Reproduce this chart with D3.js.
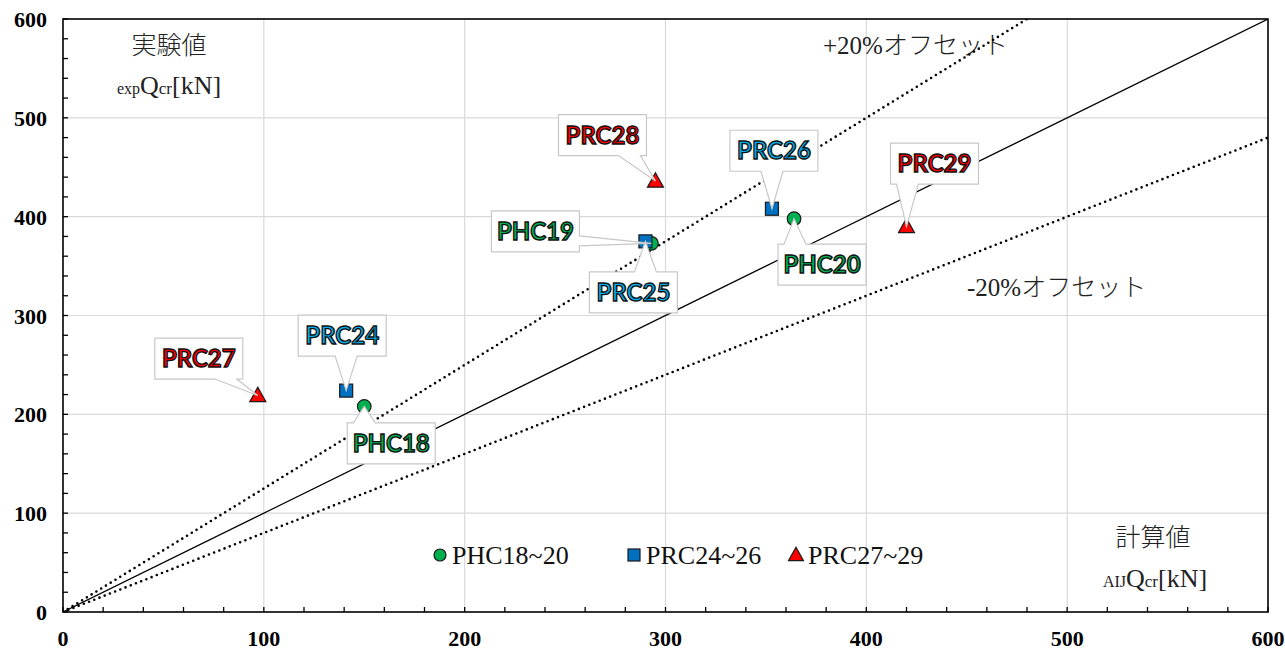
<!DOCTYPE html>
<html><head><meta charset="utf-8">
<script src="https://cdn.jsdelivr.net/npm/d3@7"></script>
<style>html,body{margin:0;padding:0;background:#fff;}svg{display:block;}</style>
</head><body>
<svg id="chart" width="1285" height="651"></svg>
<script>
// ---- data ----
const tickValues = [0, 100, 200, 300, 400, 500, 600];
const phcNames = ["PHC18", "PHC19", "PHC20"];
const phcX = [150, 293, 364];
const phcY = [208, 373, 398];
const prcANames = ["PRC24", "PRC25", "PRC26"];
const prcAX = [141, 290, 353];
const prcAY = [224, 375, 408];
const prcBNames = ["PRC27", "PRC28", "PRC29"];
const prcBX = [97, 295, 420];
const prcBY = [219, 436, 390];
const legendLabels = ["PHC18~20", "PRC24~26", "PRC27~29"];
const refSlopes = [1.0, 1.25, 0.8];

// ---- layout (callout box centre offsets from the point, px) ----
const calloutOffset = {
  PHC18: [27, 37], PHC19: [-116, -12], PHC20: [28, 46],
  PRC24: [-4, -55], PRC25: [-12, 51], PRC26: [2, -58],
  PRC27: [-59, -37], PRC28: [-53, -46], PRC29: [28, -63]
};

const svg = d3.select("#chart");
const L = 63, R = 1268, T = 19, B = 612;
const x = d3.scaleLinear().domain([0, 600]).range([L, R]);
const y = d3.scaleLinear().domain([0, 600]).range([B, T]);

const colors = { phc: "#00b050", prcA: "#0070c0", prcB: "#ff0000" };
const textColors = { phc: "#00b050", prcA: "#00b0f0", prcB: "#ff0000" };

// grid
const grid = svg.append("g");
tickValues.slice(1, -1).forEach(v => {
  grid.append("line").attr("x1", x(v)).attr("x2", x(v)).attr("y1", T).attr("y2", B)
    .attr("stroke", "#d9d9d9").attr("stroke-width", 1.2);
  grid.append("line").attr("x1", L).attr("x2", R).attr("y1", y(v)).attr("y2", y(v))
    .attr("stroke", "#d9d9d9").attr("stroke-width", 1.2);
});

// annotation texts
const serif = "'Liberation Serif','Times New Roman',serif";
const cjk = "'Liberation Serif','Noto Sans CJK JP',serif";
function annot(xp, yp, txt, size, anchor) {
  svg.append("text").attr("x", xp).attr("y", yp).attr("text-anchor", anchor || "middle")
    .attr("font-family", cjk).attr("font-size", size).attr("fill", "#222")
    .style("font-weight", 300).text(txt);
}
function offsetText(xp, yp, sign) {
  const t = svg.append("text").attr("x", xp).attr("y", yp).attr("fill", "#222")
    .attr("font-family", cjk).style("font-weight", 300);
  t.append("tspan").attr("font-size", 25).text(sign + "20%");
  t.append("tspan").attr("font-size", 25).text("オフセット");
}
annot(169, 54, "実験値", 25);
annot(1153, 546, "計算値", 25);
offsetText(823, 54, "+");
offsetText(967, 296, "-");
function unitLabel(cx, yp, sub) {
  const t = svg.append("text").attr("x", cx).attr("y", yp).attr("text-anchor", "middle")
    .attr("font-family", serif).attr("fill", "#222");
  t.append("tspan").attr("font-size", 16).text(sub);
  t.append("tspan").attr("font-size", 26).text("Q");
  t.append("tspan").attr("font-size", 17).text("cr");
  t.append("tspan").attr("font-size", 26).text("[kN]");
}
unitLabel(169, 94, "exp");
unitLabel(1155, 587, "AIJ");

// reference lines
svg.append("clipPath").attr("id", "plotclip").append("rect")
  .attr("x", L).attr("y", T).attr("width", R - L).attr("height", B - T);
const refG = svg.append("g").attr("clip-path", "url(#plotclip)");
refSlopes.forEach((s, i) => {
  const xEnd = Math.min(600, 600 / s);
  const ln = refG.append("line")
    .attr("x1", x(0)).attr("y1", y(0)).attr("x2", x(xEnd)).attr("y2", y(s * xEnd))
    .attr("stroke", "#000");
  if (i === 0) ln.attr("stroke-width", 1.2);
  else ln.attr("stroke-width", 2.6).attr("stroke-dasharray", "0 5.6").attr("stroke-linecap", "round");
});

// axes frame
svg.append("rect").attr("x", L).attr("y", T).attr("width", R - L).attr("height", B - T)
  .attr("fill", "none").attr("stroke", "#000").attr("stroke-width", 1.6);

// minor ticks (inward)
const axisG = svg.append("g");
d3.range(0, 601, 20).forEach(v => {
  axisG.append("line").attr("x1", x(v)).attr("x2", x(v)).attr("y1", B).attr("y2", B - 5)
    .attr("stroke", "#000").attr("stroke-width", 1.3);
  axisG.append("line").attr("x1", L).attr("x2", L + 5).attr("y1", y(v)).attr("y2", y(v))
    .attr("stroke", "#000").attr("stroke-width", 1.3);
});

// tick labels
tickValues.forEach(v => {
  svg.append("text").attr("x", x(v)).attr("y", 646).attr("text-anchor", "middle")
    .attr("font-family", serif).attr("font-weight", "bold").attr("font-size", 22).text(v);
  svg.append("text").attr("x", 47).attr("y", y(v) + 8).attr("text-anchor", "end")
    .attr("font-family", serif).attr("font-weight", "bold").attr("font-size", 22).text(v);
});

// markers
function marker(g, type, cx, cy, fill, size) {
  if (type === "circle") {
    g.append("circle").attr("cx", cx).attr("cy", cy).attr("r", size)
      .attr("fill", fill).attr("stroke", "#1a1a1a").attr("stroke-width", 1.2);
  } else if (type === "square") {
    g.append("rect").attr("x", cx - size).attr("y", cy - size).attr("width", 2 * size).attr("height", 2 * size)
      .attr("fill", fill).attr("stroke", "#1a1a1a").attr("stroke-width", 1.2);
  } else {
    const h = size * 1.8;
    g.append("path").attr("d", `M${cx},${cy - h * 0.58}L${cx + size},${cy + h * 0.42}L${cx - size},${cy + h * 0.42}Z`)
      .attr("fill", fill).attr("stroke", "#1a1a1a").attr("stroke-width", 1.2);
  }
}
const ptG = svg.append("g");
const series = [
  { key: "phc", type: "circle", names: phcNames, xs: phcX, ys: phcY, size: 6.8 },
  { key: "prcA", type: "square", names: prcANames, xs: prcAX, ys: prcAY, size: 6.5 },
  { key: "prcB", type: "triangle", names: prcBNames, xs: prcBX, ys: prcBY, size: 8 }
];
series.forEach(s => s.xs.forEach((v, i) => marker(ptG, s.type, x(v), y(s.ys[i]), colors[s.key], s.size)));

// callouts
function calloutPath(x0, y0, x1, y1, tx, ty) {
  const dxo = tx < x0 ? x0 - tx : (tx > x1 ? tx - x1 : 0);
  const dyo = ty < y0 ? y0 - ty : (ty > y1 ? ty - y1 : 0);
  let side;
  if (dyo >= dxo) side = ty < y0 ? "top" : "bottom";
  else side = tx < x0 ? "left" : "right";
  const clamp = (v, a, b) => Math.max(a, Math.min(b, v));
  let p;
  if (side === "top" || side === "bottom") {
    const w = 11, c = clamp(tx, x0 + w + 6, x1 - w - 6);
    if (side === "top")
      p = `M${x0},${y0}L${c - w},${y0}L${tx},${ty}L${c + w},${y0}L${x1},${y0}L${x1},${y1}L${x0},${y1}Z`;
    else
      p = `M${x0},${y0}L${x1},${y0}L${x1},${y1}L${c + w},${y1}L${tx},${ty}L${c - w},${y1}L${x0},${y1}Z`;
  } else {
    const w = 5, c = clamp(ty, y0 + w + 6, y1 - w - 6);
    if (side === "right")
      p = `M${x0},${y0}L${x1},${y0}L${x1},${c - w}L${tx},${ty}L${x1},${c + w}L${x1},${y1}L${x0},${y1}Z`;
    else
      p = `M${x0},${y0}L${x1},${y0}L${x1},${y1}L${x0},${y1}L${x0},${c + w}L${tx},${ty}L${x0},${c - w}Z`;
  }
  return p;
}
const labG = svg.append("g");
const BW = 88, BH = 41;
series.forEach(s => s.names.forEach((nm, i) => {
  const px = x(s.xs[i]), py = y(s.ys[i]);
  const off = calloutOffset[nm];
  const cx = px + off[0], cy = py + off[1];
  const x0 = cx - BW / 2, y0 = cy - BH / 2;
  labG.append("path").attr("d", calloutPath(x0, y0, x0 + BW, y0 + BH, px, py))
    .attr("fill", "#fff").attr("stroke", "#c8c8c8").attr("stroke-width", 1.2);
  labG.append("text").attr("x", cx).attr("y", cy + 8.5).attr("text-anchor", "middle")
    .attr("font-family", "Lato,'Liberation Sans',sans-serif").attr("font-weight", "bold")
    .attr("font-size", 24).attr("fill", textColors[s.key])
    .attr("stroke", "#111").attr("stroke-width", 1.4).text(nm);
}));

// legend
const legX = [440, 634, 796];
const legG = svg.append("g");
series.forEach((s, i) => {
  marker(legG, s.type, legX[i], 555, colors[s.key], s.type === "triangle" ? 7.5 : 6);
  legG.append("text").attr("x", legX[i] + 12).attr("y", 564)
    .attr("font-family", serif).attr("font-size", 26).attr("fill", "#111").text(legendLabels[i]);
});
</script>
</body></html>
